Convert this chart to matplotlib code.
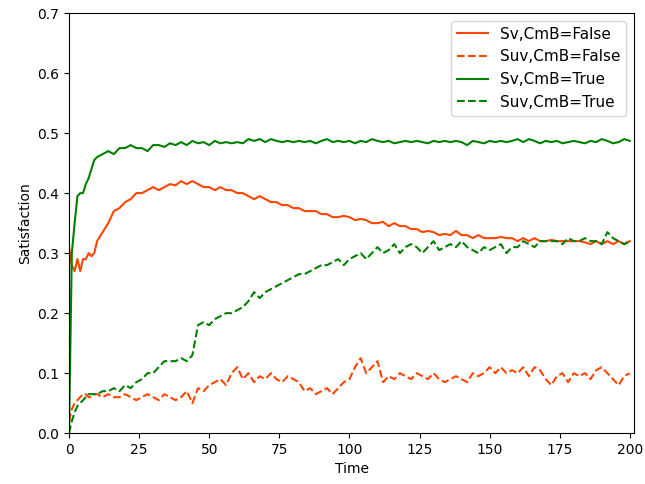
import numpy as np
import matplotlib
matplotlib.use('Agg')
import matplotlib.pyplot as plt

# time points: every step up to 10, then every 2 steps
t = list(range(0, 11)) + list(range(12, 201, 2))

sv_false = [0.31, 0.28, 0.27, 0.29, 0.27, 0.29, 0.29, 0.30, 0.295, 0.30, 0.32,
            0.335, 0.35, 0.37, 0.375,
            0.385, 0.39, 0.40, 0.40, 0.405, 0.41, 0.405, 0.41, 0.415, 0.413,
            0.42, 0.415, 0.42, 0.415, 0.41, 0.41, 0.405, 0.41, 0.405, 0.405,
            0.40, 0.40, 0.395, 0.39, 0.395, 0.39, 0.385, 0.385, 0.38, 0.38,
            0.375, 0.375, 0.37, 0.37, 0.37, 0.365, 0.365, 0.36, 0.36, 0.362,
            0.36, 0.355, 0.357, 0.355, 0.35, 0.35, 0.352, 0.345, 0.35, 0.345,
            0.345, 0.34, 0.34, 0.335, 0.337, 0.335, 0.33, 0.332, 0.33, 0.337,
            0.33, 0.33, 0.325, 0.33, 0.325, 0.325, 0.325, 0.327, 0.325, 0.325,
            0.32, 0.325, 0.32, 0.325, 0.32, 0.32, 0.322, 0.32, 0.32, 0.32,
            0.32, 0.32, 0.318, 0.315, 0.32, 0.315, 0.32, 0.315, 0.32, 0.315,
            0.32]

suv_false = [0.02, 0.04, 0.05, 0.055, 0.06, 0.065, 0.065, 0.06, 0.06, 0.065, 0.065,
             0.06, 0.065, 0.06, 0.06,
             0.065, 0.06, 0.055, 0.06, 0.065, 0.06, 0.055, 0.065, 0.06, 0.055,
             0.06, 0.07, 0.05, 0.075, 0.07, 0.08, 0.085, 0.09, 0.08, 0.10,
             0.11, 0.09, 0.10, 0.085, 0.095, 0.09, 0.10, 0.09, 0.085, 0.095,
             0.09, 0.085, 0.07, 0.075, 0.065, 0.07, 0.075, 0.065, 0.075, 0.085,
             0.09, 0.11, 0.125, 0.10, 0.11, 0.12, 0.085, 0.095, 0.09, 0.10,
             0.095, 0.09, 0.10, 0.095, 0.09, 0.10, 0.09, 0.085, 0.09, 0.095,
             0.09, 0.085, 0.10, 0.095, 0.10, 0.11, 0.10, 0.11, 0.10, 0.105,
             0.10, 0.11, 0.095, 0.11, 0.105, 0.09, 0.08, 0.095, 0.10, 0.085,
             0.10, 0.095, 0.10, 0.09, 0.105, 0.11, 0.10, 0.09, 0.08, 0.095,
             0.10]

sv_true = [0.0, 0.30, 0.35, 0.395, 0.40, 0.40, 0.415, 0.425, 0.44, 0.455, 0.46,
           0.465, 0.47, 0.465, 0.475,
           0.475, 0.48, 0.475, 0.475, 0.47, 0.48, 0.48, 0.477, 0.483, 0.48,
           0.485, 0.48, 0.487, 0.483, 0.485, 0.48, 0.487, 0.483, 0.485, 0.483,
           0.485, 0.483, 0.49, 0.487, 0.49, 0.485, 0.49, 0.487, 0.485, 0.487,
           0.485, 0.487, 0.485, 0.487, 0.483, 0.487, 0.49, 0.485, 0.487, 0.485,
           0.487, 0.483, 0.487, 0.485, 0.49, 0.487, 0.485, 0.487, 0.483, 0.485,
           0.487, 0.485, 0.487, 0.485, 0.483, 0.487, 0.485, 0.487, 0.485, 0.487,
           0.485, 0.48, 0.487, 0.485, 0.483, 0.487, 0.485, 0.487, 0.485, 0.487,
           0.49, 0.485, 0.49, 0.487, 0.483, 0.487, 0.485, 0.487, 0.483, 0.485,
           0.487, 0.485, 0.483, 0.487, 0.485, 0.49, 0.487, 0.483, 0.485, 0.49,
           0.487]

suv_true = [0.0, 0.02, 0.035, 0.045, 0.05, 0.055, 0.06, 0.065, 0.065, 0.065, 0.065,
            0.07, 0.07, 0.075, 0.07,
            0.08, 0.075, 0.085, 0.09, 0.10, 0.10, 0.11, 0.12, 0.12, 0.12,
            0.125, 0.12, 0.13, 0.18, 0.185, 0.18, 0.19, 0.195, 0.20, 0.20,
            0.205, 0.21, 0.22, 0.235, 0.225, 0.235, 0.24, 0.245, 0.25, 0.255,
            0.26, 0.265, 0.265, 0.27, 0.275, 0.28, 0.28, 0.285, 0.29, 0.28,
            0.29, 0.295, 0.30, 0.29, 0.30, 0.31, 0.30, 0.305, 0.315, 0.30,
            0.31, 0.315, 0.31, 0.30, 0.31, 0.32, 0.305, 0.31, 0.315, 0.31,
            0.32, 0.31, 0.305, 0.30, 0.31, 0.305, 0.31, 0.315, 0.30, 0.31,
            0.31, 0.32, 0.315, 0.31, 0.32, 0.32, 0.32, 0.32, 0.315, 0.325,
            0.32, 0.32, 0.325, 0.32, 0.32, 0.315, 0.335, 0.325, 0.32, 0.315,
            0.32]

fig = plt.figure(figsize=(6.45, 4.84), dpi=100)
ax = fig.add_axes([0.107, 0.105, 0.876, 0.868])

ax.plot(t, sv_false, color='orangered', linestyle='-', label='Sv,CmB=False')
ax.plot(t, suv_false, color='orangered', linestyle='--', label='Suv,CmB=False')
ax.plot(t, sv_true, color='green', linestyle='-', label='Sv,CmB=True')
ax.plot(t, suv_true, color='green', linestyle='--', label='Suv,CmB=True')

ax.set_xlim(0, 201.5)
ax.set_ylim(0, 0.7)
ax.set_xlabel('Time')
ax.set_ylabel('Satisfaction')
ax.legend(loc='upper right', fontsize=11)

fig.savefig('out.png', dpi=100)
